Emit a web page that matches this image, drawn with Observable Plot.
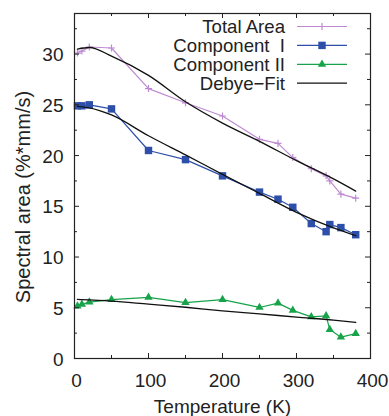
<!DOCTYPE html>
<html><head><meta charset="utf-8">
<script src="https://cdn.jsdelivr.net/npm/d3@7"></script>
<script src="https://cdn.jsdelivr.net/npm/@observablehq/plot@0.6"></script>
<style>
body{margin:0;background:#fff;}
svg{font-family:"Liberation Sans",Arial,Helvetica,sans-serif;}
</style></head><body><div id="chart"></div>
<script>
// Measured data (temperature in K, spectral area in %*mm/s)
const temperature = [4, 10, 20, 50, 100, 150, 200, 250, 275, 295, 320, 340, 345, 360, 380];
const totalArea   = [30.1, 30.3, 30.7, 30.6, 26.6, 25.2, 23.9, 21.6, 21.2, 19.8, 18.7, 18.0, 17.5, 16.2, 15.8];
const componentI  = [24.9, 24.9, 25.0, 24.6, 20.5, 19.6, 18.0, 16.4, 15.7, 14.9, 13.3, 12.5, 13.2, 12.9, 12.2];
const componentII = [5.16, 5.33, 5.55, 5.8, 6.02, 5.5, 5.8, 5.03, 5.46, 4.74, 4.1, 4.2, 2.85, 2.1, 2.45];

// Debye fit curves
const fitTemperature = [4, 20, 50, 100, 150, 200, 250, 300, 350, 380];
const fitTotal = [30.5, 30.65, 29.8, 27.9, 25.3, 23.2, 21.4, 19.5, 17.7, 16.5];
const fitI     = [24.85, 24.7, 24.0, 21.95, 20.06, 18.15, 16.27, 14.4, 12.87, 12.1];
const fitII    = [5.82, 5.78, 5.65, 5.35, 5.05, 4.7, 4.4, 4.08, 3.78, 3.55];

// Ticks and labels
const xTicks = [0, 100, 200, 300, 400];
const xInnerTicks = [100, 200, 300];
const xMinorTicks = [50, 150, 250, 350];
const yTicks = [0, 5, 10, 15, 20, 25, 30];
const yInnerTicks = [5, 10, 15, 20, 25, 30];
const yMinorTicks = [2.5, 7.5, 12.5, 17.5, 22.5, 27.5, 32.5];
const xTitle = "Temperature (K)";
const yTitle = "Spectral area (%*mm/s)";
const legendNames = ["Total Area", "Component  I", "Component II", "Debye\u2212Fit"];

const colTotal = "#c08ad2", colI = "#2e4fa9", colII = "#17a34a", colFit = "#111";

const rows = (vals) => temperature.map((t, i) => ({t, v: vals[i]}));
const totalRows = rows(totalArea), iRows = rows(componentI), iiRows = rows(componentII);
const fitRows = [
  ...fitTemperature.map((t, i) => ({t, v: fitTotal[i], s: "total"})),
  ...fitTemperature.map((t, i) => ({t, v: fitI[i], s: "I"})),
  ...fitTemperature.map((t, i) => ({t, v: fitII[i], s: "II"}))
];

const W = 389, H = 416, mL = 74, mR = 19, mT = 13, mB = 58;
const iW = W - mL - mR, iH = H - mT - mB;
const major = 5, minor = 3;
const plusR = 2.4, squareR = 4.2, triR = 3.1;

const plot = Plot.plot({
  width: W, height: H,
  marginLeft: mL, marginRight: mR, marginTop: mT, marginBottom: mB,
  style: {fontFamily: '"Liberation Sans", Arial, Helvetica, sans-serif', fontSize: "19px", color: "#222", background: "#fff", overflow: "visible"},
  x: {domain: [0, 400]},
  y: {domain: [0, 34]},
  marks: [
    Plot.line(totalRows, {x: "t", y: "v", stroke: colTotal, strokeWidth: 1.2}),
    Plot.dot(totalRows, {x: "t", y: "v", symbol: "plus", stroke: colTotal, r: plusR, strokeWidth: 1.2}),
    Plot.line(iRows, {x: "t", y: "v", stroke: colI, strokeWidth: 1.2}),
    Plot.dot(iRows, {x: "t", y: "v", symbol: "square", fill: colI, r: squareR}),
    Plot.line(iiRows, {x: "t", y: "v", stroke: colII, strokeWidth: 1.2}),
    Plot.dot(iiRows, {x: "t", y: "v", symbol: "triangle", fill: colII, r: triR}),
    Plot.line(fitRows, {x: "t", y: "v", z: "s", stroke: colFit, strokeWidth: 1.3, curve: "monotone-x"}),
    Plot.frame({stroke: "#222", strokeWidth: 1.2}),
    // inward ticks on all four sides
    Plot.tickX(xInnerTicks, {x: d => d, insetTop: iH - major, stroke: "#222"}),
    Plot.tickX(xInnerTicks, {x: d => d, insetBottom: iH - major, stroke: "#222"}),
    Plot.tickX(xMinorTicks, {x: d => d, insetTop: iH - minor, stroke: "#222"}),
    Plot.tickX(xMinorTicks, {x: d => d, insetBottom: iH - minor, stroke: "#222"}),
    Plot.tickY(yInnerTicks, {y: d => d, insetRight: iW - major, stroke: "#222"}),
    Plot.tickY(yInnerTicks, {y: d => d, insetLeft: iW - major, stroke: "#222"}),
    Plot.tickY(yMinorTicks, {y: d => d, insetRight: iW - minor, stroke: "#222"}),
    Plot.tickY(yMinorTicks, {y: d => d, insetLeft: iW - minor, stroke: "#222"}),
    Plot.axisX({ticks: xTicks, tickSize: 0, tickPadding: 15, dx: 2, fontSize: 19, label: null}),
    Plot.axisY({ticks: yTicks, tickSize: 0, tickPadding: 11, dy: 1, fontSize: 19, label: null}),
    Plot.text([xTitle], {text: d => d, frameAnchor: "bottom", dy: 48.5, fontSize: 19, textAnchor: "middle", lineAnchor: "middle", fill: "#222"}),
    Plot.text([yTitle], {text: d => d, frameAnchor: "left", rotate: -90, dx: -51, dy: 11, fontSize: 20, textAnchor: "middle", lineAnchor: "middle", fill: "#222"})
  ]
});

// Legend (top right, inside the frame)
const svg = d3.select(plot);
const legend = svg.append("g").attr("font-size", 18.6).attr("fill", "#222");
const legendSpecs = [
  {color: colTotal, symbol: d3.symbolPlus, r: plusR, stroke: true},
  {color: colI, symbol: d3.symbolSquare, r: squareR},
  {color: colII, symbol: d3.symbolTriangle, r: triR},
  {color: colFit, symbol: null}
];
legendNames.forEach((name, i) => {
  const spec = legendSpecs[i];
  const yb = 33.3 + 18.9 * i, yl = yb - 6.8;
  legend.append("text").attr("x", 285).attr("y", yb).attr("text-anchor", "end")
    .style("white-space", "pre").text(name);
  legend.append("line").attr("x1", 297).attr("x2", 347).attr("y1", yl).attr("y2", yl)
    .attr("stroke", spec.color).attr("stroke-width", spec.symbol ? 1.2 : 1.3);
  if (spec.symbol) {
    const p = legend.append("path").attr("transform", `translate(322,${yl})`)
      .attr("d", d3.symbol(spec.symbol, Math.PI * spec.r * spec.r)());
    if (spec.stroke) p.attr("fill", "none").attr("stroke", spec.color).attr("stroke-width", 1.2);
    else p.attr("fill", spec.color);
  }
});

document.getElementById("chart").appendChild(plot);
</script></body></html>
